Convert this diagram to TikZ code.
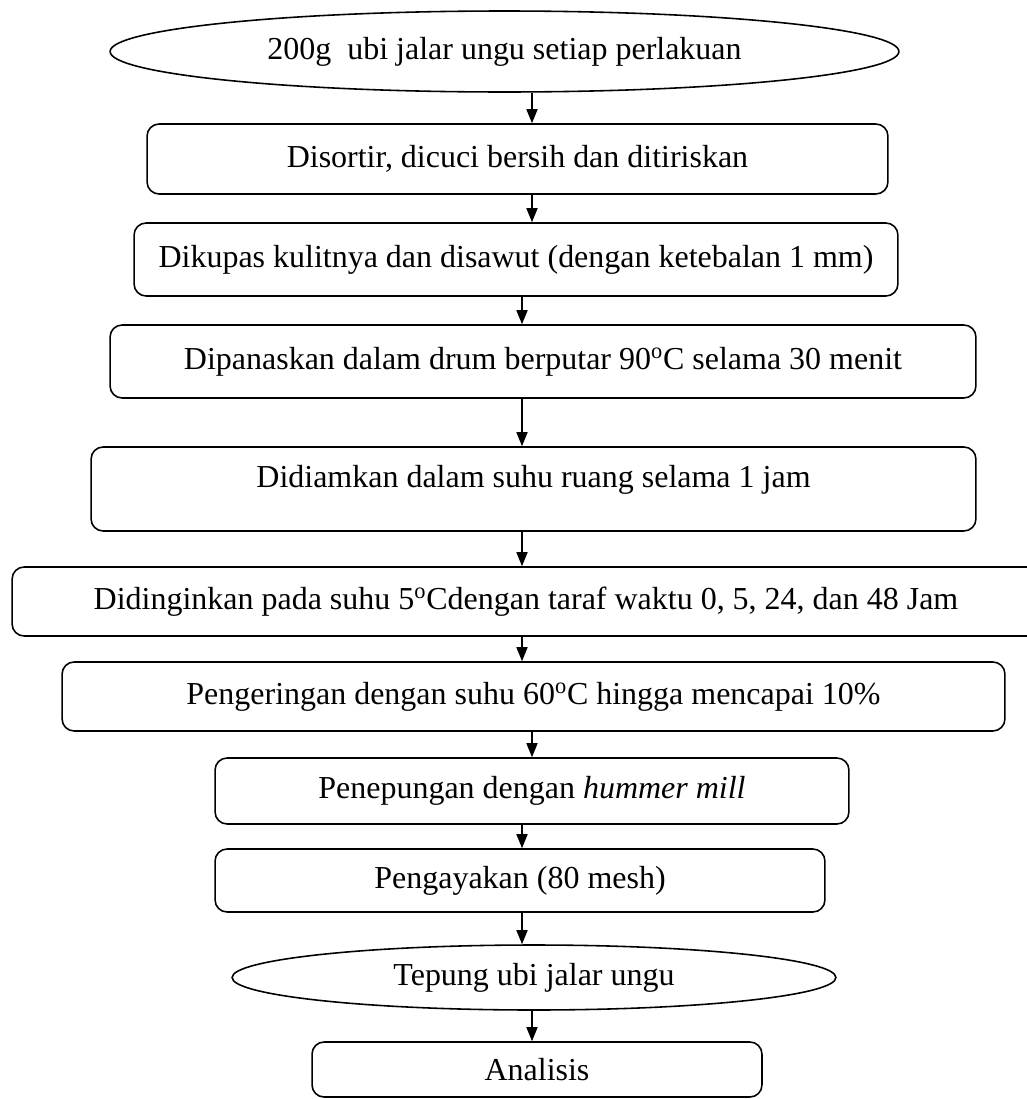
\documentclass[tikz,border=0pt]{standalone}
\usepackage{fontspec}
\setmainfont{Liberation Serif}
\usetikzlibrary{positioning, arrows.meta, shapes.geometric}

\begin{document}
\begin{tikzpicture}[x=0.02cm, y=-0.02cm,
  proc/.style={draw, rounded corners=2.4mm, line width=0.9pt, inner sep=0pt,
               align=center, font=\fontsize{18.2}{22}\selectfont},
  term/.style={draw, ellipse, line width=0.9pt, inner sep=0pt,
               align=center, font=\fontsize{18.2}{22}\selectfont},
  arr/.style={-{Triangle[length=2.8mm, width=2.2mm]}, line width=0.9pt}
]
  \clip (0,0) rectangle (1027,1099);

  % Process steps
  \node[term, minimum width=15.78cm, minimum height=1.62cm] (e1) at (504.5,51.5) {200g\ \ ubi jalar ungu setiap perlakuan};
  \node[proc, minimum width=14.82cm, minimum height=1.40cm] (b2) at (517.5,159) {Disortir, dicuci bersih dan ditiriskan};
  \node[proc, minimum width=15.28cm, minimum height=1.46cm] (b3) at (516,259.5) {Dikupas kulitnya dan disawut (dengan ketebalan 1 mm)};
  \node[proc, minimum width=17.32cm, minimum height=1.46cm] (b4) at (543,361.5) {Dipanaskan dalam drum berputar 90\textsuperscript{o}C selama 30 menit};
  \node[proc, minimum width=17.70cm, minimum height=1.68cm, text depth=0.5cm] (b5) at (533.5,489) {Didiamkan dalam suhu ruang selama 1 jam};
  \node[proc, minimum width=20.56cm, minimum height=1.38cm] (b6) at (526,601.5) {Didinginkan pada suhu 5\textsuperscript{o}Cdengan taraf waktu 0, 5, 24, dan 48 Jam};
  \node[proc, minimum width=18.86cm, minimum height=1.38cm] (b7) at (533.5,696.5) {Pengeringan dengan suhu 60\textsuperscript{o}C hingga mencapai 10\%};
  \node[proc, minimum width=12.68cm, minimum height=1.32cm] (b8) at (532,791) {Penepungan dengan \textit{hummer mill}};
  \node[proc, minimum width=12.20cm, minimum height=1.26cm] (b9) at (520,880.5) {Pengayakan (80 mesh)};
  \node[term, minimum width=12.08cm, minimum height=1.30cm] (e10) at (534,977.5) {Tepung ubi jalar ungu};
  \node[proc, minimum width=9.00cm, minimum height=1.10cm] (b11) at (537,1069.5) {Analisis};

  % Arrow columns
  \coordinate (ca) at (532,0);
  \coordinate (cb) at (522,0);

  \draw[arr] (e1.south -| ca) -- (b2.north -| ca);
  \draw[arr] (b2.south -| ca) -- (b3.north -| ca);
  \draw[arr] (b3.south -| cb) -- (b4.north -| cb);
  \draw[arr] (b4.south -| cb) -- (b5.north -| cb);
  \draw[arr] (b5.south -| cb) -- (b6.north -| cb);
  \draw[arr] (b6.south -| cb) -- (b7.north -| cb);
  \draw[arr] (b7.south -| ca) -- (b8.north -| ca);
  \draw[arr] (b8.south -| cb) -- (b9.north -| cb);
  \draw[arr] (b9.south -| cb) -- (e10.north -| cb);
  \draw[arr] (e10.south -| ca) -- (b11.north -| ca);

\end{tikzpicture}
\end{document}
